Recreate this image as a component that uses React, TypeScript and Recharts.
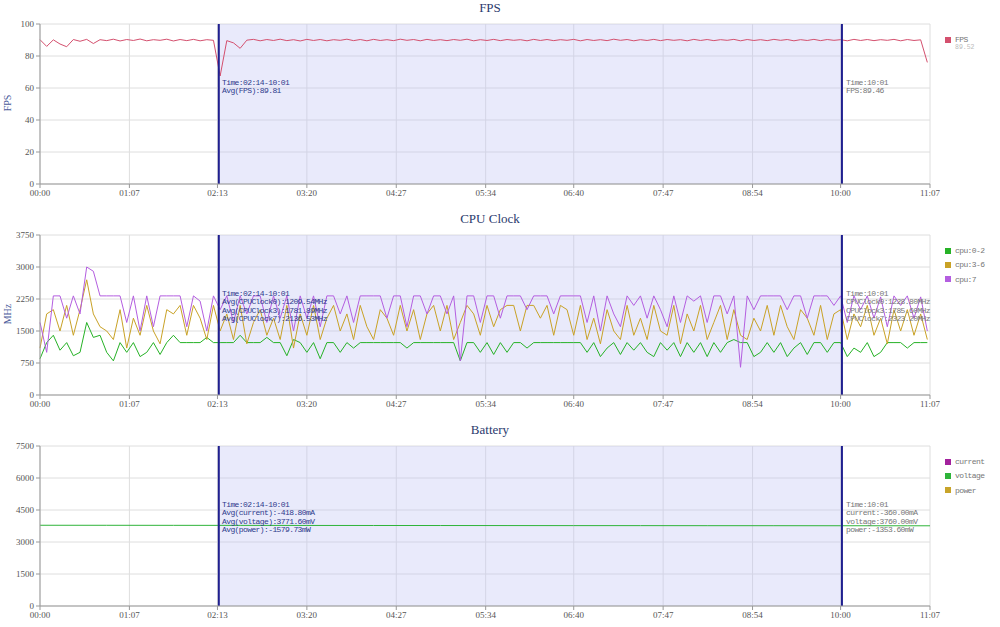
import React from "react";
import {
  LineChart, Line, XAxis, YAxis, CartesianGrid, ReferenceArea, ReferenceLine,
} from "recharts";

// sampling step of the recorded series, seconds
const STEP = 5;

const X_TICKS = [0, 67, 133, 200, 267, 334, 400, 467, 534, 600, 667];
const SELECTION = [134, 601];

const FPS_TICKS = [0, 20, 40, 60, 80, 100];
const CPU_TICKS = [0, 750, 1500, 2250, 3000, 3750];
const BAT_TICKS = [0, 1500, 3000, 4500, 6000, 7500];

const FPS = [
  90.2, 86.0, 90.1, 87.5, 85.8, 90.3, 89.2, 90.4, 87.8, 90.2,
  89.6, 90.5, 89.4, 90.3, 89.7, 90.6, 89.5, 90.2, 89.8, 90.5,
  89.4, 90.3, 89.6, 90.4, 89.5, 90.2, 89.8, 67.5, 89.6, 88.2,
  84.8, 89.9, 90.4, 89.5, 90.3, 89.7, 90.5, 89.6, 90.2, 89.4,
  90.4, 89.7, 90.3, 89.5, 90.2, 89.8, 90.5, 89.6, 90.3, 89.5,
  90.4, 89.7, 90.2, 89.6, 90.5, 89.8, 90.3, 89.5, 90.4, 89.7,
  90.2, 89.6, 90.3, 89.8, 90.5, 89.5, 90.2, 89.7, 90.4, 89.6,
  90.3, 89.8, 90.2, 89.5, 90.4, 89.7, 90.3, 89.6, 90.2, 89.8,
  90.4, 89.5, 90.3, 89.7, 90.2, 89.6, 90.5, 89.8, 90.3, 89.5,
  90.2, 89.7, 90.4, 89.6, 90.3, 89.8, 90.2, 89.5, 90.4, 89.7,
  90.3, 89.6, 90.2, 89.8, 90.4, 89.5, 90.3, 89.7, 90.2, 89.6,
  90.4, 89.8, 90.3, 89.5, 90.2, 89.7, 90.4, 89.6, 90.3, 89.8,
  90.2, 89.5, 90.4, 89.7, 90.3, 89.6, 90.2, 89.8, 90.4, 89.5,
  90.3, 89.7, 90.1, 76.0,
];

const CPU_0_2 = [
  850, 1228, 1400, 1050, 1228, 920, 1000, 1700, 1350, 1400,
  1000, 800, 1228, 1000, 1228, 900, 1000, 1228, 950, 1228,
  1400, 1228, 1228, 1228, 1228, 1350, 1228, 1228, 1228, 1228,
  1400, 1228, 1228, 1228, 1350, 1228, 1228, 920, 1300, 1228,
  1000, 1228, 850, 1228, 1228, 1000, 1228, 1100, 1228, 1228,
  1228, 1228, 1228, 1228, 1228, 1100, 1228, 1228, 1228, 1228,
  1228, 1228, 1228, 800, 1228, 1228, 1000, 1228, 950, 1228,
  1000, 1228, 1228, 1100, 1228, 1228, 1228, 1228, 1228, 1228,
  1228, 1228, 1000, 1228, 900, 1100, 1228, 950, 1228, 1050,
  1228, 1000, 900, 1228, 1050, 1228, 900, 1228, 1000, 1228,
  900, 1228, 1000, 1228, 1300, 1228, 1228, 900, 1000, 1228,
  1000, 1228, 900, 1100, 1228, 950, 1228, 1228, 1000, 1228,
  1228, 900, 1100, 1000, 1228, 900, 1000, 1228, 1228, 1228,
  1100, 1228, 1228, 1228,
];

const CPU_3_6 = [
  1100, 1900, 2000, 1500, 2100, 1400, 2000, 2700, 1900, 1600,
  1500, 1300, 2000, 1100, 1800, 1400, 2100, 1500, 1200, 2000,
  1900, 2100, 1400, 2100, 1800, 1300, 2100, 1500, 1900, 1300,
  2100, 1200, 1700, 2000, 1400, 1800, 1300, 2100, 1100, 1900,
  1400, 2100, 1300, 1800, 2100, 1500, 1900, 1300, 2100, 1600,
  1300, 2000, 1800, 1400, 2100, 1500, 2000, 1300, 1900, 2100,
  1500, 2100, 1300, 1700, 2100, 1900, 1400, 2100, 1600, 2000,
  2100, 2100, 1500, 2100, 2100, 1800, 2100, 1400, 2100, 2000,
  1400, 2100, 1300, 1800, 1200, 2000, 1500, 1300, 2100, 1400,
  1800, 1300, 2100, 1500, 1400, 2100, 1200, 1900, 1500, 2100,
  1300, 1700, 2100, 1300, 2000, 1400, 1300, 1800, 1500, 2100,
  1400, 2100, 1600, 1300, 2000, 1800, 1400, 2100, 1300, 1900,
  2000, 1300, 1900, 1600, 2100, 1400, 1800, 1200, 2000, 1500,
  2000, 1400, 1900, 1300,
];

const CPU_7 = [
  1700, 1000, 2323, 2323, 1800, 2323, 1900, 3000, 2900, 2323,
  2323, 2323, 2323, 1700, 2323, 1500, 2323, 1600, 2323, 2323,
  2323, 2323, 1600, 2323, 2200, 1500, 2323, 2000, 2323, 1700,
  2323, 1900, 2323, 2323, 1700, 2323, 1800, 2323, 1500, 2323,
  1800, 2323, 1600, 2323, 2323, 1900, 2323, 1700, 2323, 2323,
  2323, 2323, 1800, 2323, 2323, 1600, 2323, 2323, 1900, 2323,
  2323, 1900, 2323, 800, 2323, 2323, 1700, 2323, 2323, 1800,
  2323, 2323, 2323, 2000, 2323, 2323, 2323, 1900, 2323, 2323,
  2323, 2323, 1700, 2323, 1500, 2323, 1900, 1600, 2323, 2100,
  2323, 1800, 2323, 2000, 1600, 2323, 1700, 2323, 2200, 2323,
  1700, 2323, 2323, 1900, 2323, 650, 2323, 2000, 2323, 2323,
  2323, 2323, 2000, 2323, 2323, 1800, 2323, 2323, 2323, 2100,
  2323, 1700, 2323, 2000, 2323, 1800, 2300, 1600, 2323, 2100,
  2323, 1800, 2300, 1500,
];

const BAT_TIMES = [0, 50, 100, 150, 200, 250, 300, 350, 400, 450, 500, 550, 600, 650, 667];
const BAT_CURRENT = [-380, -420, -450, -400, -430, -410, -440, -420, -400, -430, -410, -420, -390, -360, -360];
const BAT_VOLTAGE = [3785, 3783, 3781, 3779, 3776, 3774, 3772, 3770, 3768, 3767, 3765, 3764, 3762, 3760, 3760];
const BAT_POWER = [-1438, -1589, -1701, -1512, -1624, -1547, -1660, -1583, -1507, -1620, -1544, -1581, -1467, -1354, -1354];

const fpsRows = FPS.map((v, i) => ({ t: i * STEP, fps: v }));
const cpuRows = CPU_0_2.map((v, i) => ({ t: i * STEP, c0: v, c3: CPU_3_6[i], c7: CPU_7[i] }));
const batRows = BAT_TIMES.map((t, i) => ({
  t, current: BAT_CURRENT[i], voltage: BAT_VOLTAGE[i], power: BAT_POWER[i],
}));

const pad = (n: number) => String(n).padStart(2, "0");
const fmtTime = (s: number) => `${pad(Math.floor(s / 60))}:${pad(s % 60)}`;

const tickStyle = { fontSize: 9, fill: "#555", fontFamily: "Liberation Serif" };
const noteFont: React.CSSProperties = {
  position: "absolute",
  fontFamily: "Liberation Mono",
  fontSize: 8,
  letterSpacing: -0.6,
  lineHeight: "8.6px",
  whiteSpace: "pre",
};

type Series = { key: string; name: string; color: string };

type PanelProps = {
  title: string;
  top: number;
  rows: any[];
  domain: [number, number];
  ticks: number[];
  series: Series[];
  yLabel?: string;
  leftNote: string[];
  rightNote: string[];
  legendExtra?: string;
};

const Panel = ({ title, top, rows, domain, ticks, series, yLabel, leftNote, rightNote, legendExtra }: PanelProps) => (
  <div style={{ position: "absolute", left: 0, top, width: 1000, height: 211 }}>
    <div style={{
      position: "absolute", left: 390, width: 200, top: 0, textAlign: "center",
      fontFamily: "Liberation Serif", fontSize: 13, color: "#2b3a6e", lineHeight: "16px",
    }}>{title}</div>
    {yLabel && (
      <div style={{
        position: "absolute", left: -12, top: 97, width: 40, textAlign: "center",
        transform: "rotate(-90deg)", fontFamily: "Liberation Serif", fontSize: 10,
        color: "#4a5a9a", lineHeight: "12px",
      }}>{yLabel}</div>
    )}
    <LineChart width={1000} height={211} data={rows} margin={{ top: 24, right: 70, bottom: 0, left: 0 }}>
      <CartesianGrid stroke="#dedede" />
      {/* translucent so the grid still shows through the selected range */}
      <ReferenceArea x1={SELECTION[0]} x2={SELECTION[1]} fill="#bfc3f3" fillOpacity={0.35} strokeOpacity={0} ifOverflow="hidden" />
      <XAxis
        dataKey="t" type="number" domain={[0, 667]} ticks={X_TICKS} tickFormatter={fmtTime}
        height={27} tickSize={4} stroke="#999" tick={tickStyle} interval={0}
      />
      <YAxis
        type="number" domain={domain} ticks={ticks} allowDataOverflow width={40}
        tickSize={4} stroke="#999" tick={tickStyle} interval={0}
      />
      {series.map((s) => (
        <Line
          key={s.key} dataKey={s.key} name={s.name} type="linear" stroke={s.color}
          strokeWidth={1} dot={false} isAnimationActive={false}
        />
      ))}
      <ReferenceLine x={SELECTION[0]} stroke="#1f1f8f" strokeWidth={2} />
      <ReferenceLine x={SELECTION[1]} stroke="#1f1f8f" strokeWidth={2} />
    </LineChart>
    <div style={{ ...noteFont, left: 222, top: 78.5, color: "#2e3a8c" }}>{leftNote.join("\n")}</div>
    <div style={{ ...noteFont, left: 846, top: 78.5, color: "#777" }}>{rightNote.join("\n")}</div>
    <div style={{ position: "absolute", left: 945, top: 35 }}>
      {series.map((s, i) => (
        <div key={s.key} style={{ position: "absolute", top: i * 14.3, left: 0, width: 60, height: 10 }}>
          <div style={{ position: "absolute", left: 0, top: 1.5, width: 6, height: 6, background: s.color }} />
          <div style={{
            position: "absolute", left: 10, top: 0, fontFamily: "Liberation Mono", fontSize: 8,
            letterSpacing: -0.6, color: "#777", lineHeight: "9px", whiteSpace: "pre",
          }}>{s.name}</div>
        </div>
      ))}
      {legendExtra && (
        <div style={{
          position: "absolute", left: 10, top: 9, fontFamily: "Liberation Mono", fontSize: 6.5,
          color: "#bbb", lineHeight: "8px",
        }}>{legendExtra}</div>
      )}
    </div>
  </div>
);

export default function App() {
  return (
    <div style={{ position: "absolute", left: 0, top: 0, width: 1000, height: 627, background: "#fff", overflow: "hidden" }}>
      <Panel
        title="FPS" top={0} rows={fpsRows} domain={[0, 100]} ticks={FPS_TICKS} yLabel="FPS"
        series={[{ key: "fps", name: "FPS", color: "#d4506e" }]}
        leftNote={["Time:02:14-10:01", "Avg(FPS):89.81"]}
        rightNote={["Time:10:01", "FPS:89.46"]}
        legendExtra="89.52"
      />
      <Panel
        title="CPU Clock" top={211} rows={cpuRows} domain={[0, 3750]} ticks={CPU_TICKS} yLabel="MHz"
        series={[
          { key: "c0", name: "cpu:0-2", color: "#26b226" },
          { key: "c3", name: "cpu:3-6", color: "#c9a226" },
          { key: "c7", name: "cpu:7", color: "#b45ee0" },
        ]}
        leftNote={[
          "Time:02:14-10:01",
          "Avg(CPUClock0):1209.54MHz",
          "Avg(CPUClock3):1781.89MHz",
          "Avg(CPUClock7):2136.53MHz",
        ]}
        rightNote={["Time:10:01", "CPUClock0:1228.80MHz", "CPUClock3:1785.60MHz", "CPUClock7:2323.20MHz"]}
      />
      <Panel
        title="Battery" top={422} rows={batRows} domain={[0, 7500]} ticks={BAT_TICKS}
        series={[
          { key: "current", name: "current", color: "#a3229d" },
          { key: "voltage", name: "voltage", color: "#2fb43a" },
          { key: "power", name: "power", color: "#c8a42a" },
        ]}
        leftNote={[
          "Time:02:14-10:01",
          "Avg(current):-418.80mA",
          "Avg(voltage):3771.60mV",
          "Avg(power):-1579.73mW",
        ]}
        rightNote={["Time:10:01", "current:-360.00mA", "voltage:3760.00mV", "power:-1353.60mW"]}
      />
    </div>
  );
}
